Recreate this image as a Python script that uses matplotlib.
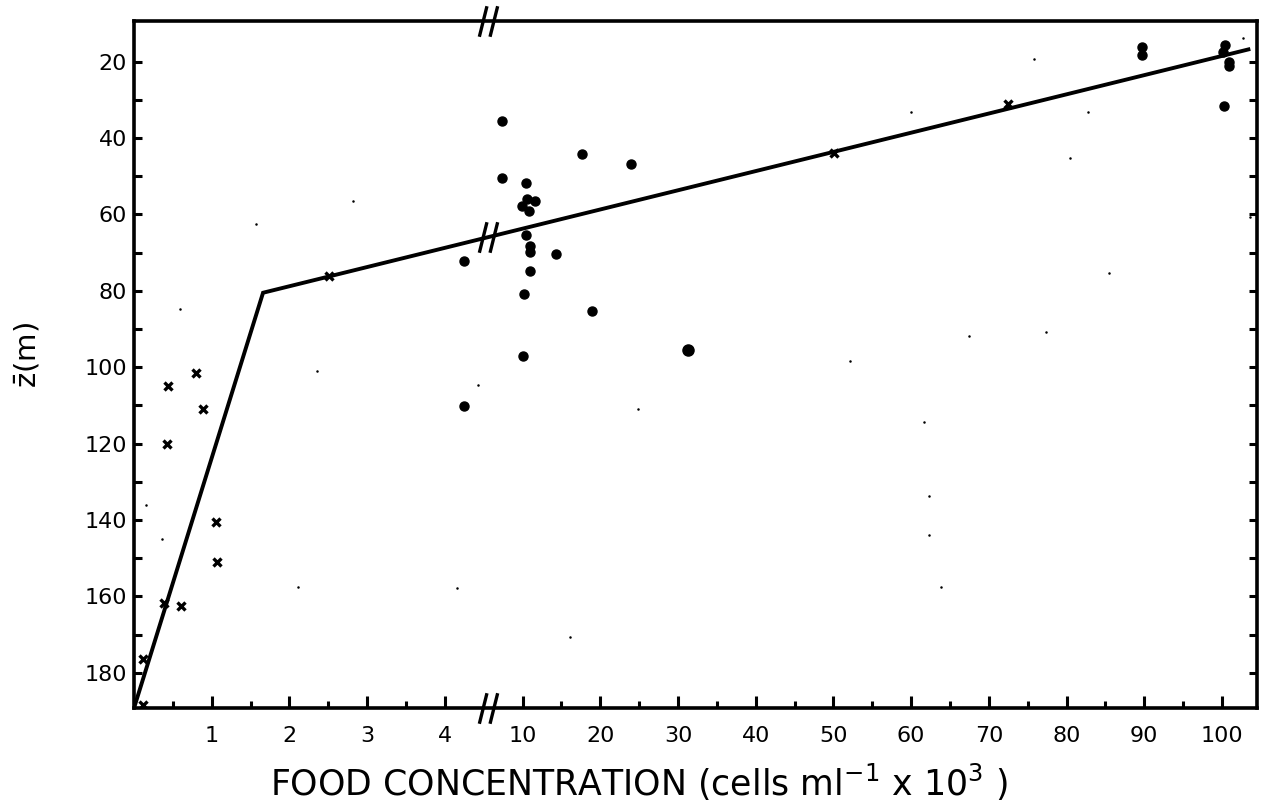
import numpy as np
import matplotlib
matplotlib.use('Agg')
import matplotlib.pyplot as plt
from matplotlib.path import Path
from matplotlib.ticker import FixedLocator, NullFormatter

# donnees (x en cellules ml-1 x 10^3, z en m)
dots_x = [6.8, 6.8, 10.4, 10.6, 9.9, 11.6, 10.8, 10.5, 10.9, 10.9, 11.0, 10.2,
          4.25, 17.6, 24.0, 14.3, 18.9, 10.1, 4.25,
          89.7, 89.7, 100.4, 100.1, 100.9, 100.9, 100.3]
dots_z = [35.5, 50.4, 51.9, 55.9, 57.7, 56.6, 59.0, 65.4, 68.3, 69.8, 74.8, 80.8,
          72.2, 44.1, 46.7, 70.4, 85.3, 97.0, 110.1,
          16.1, 18.2, 15.6, 17.4, 20.0, 21.1, 31.6]

big_x = [31.3]
big_z = [95.6]

cross_x = [0.44, 0.80, 0.89, 0.43, 1.06, 1.07, 0.38, 0.60, 0.11, 0.12, 2.51, 50.1, 72.4]
cross_z = [105.0, 101.4, 111.0, 120.2, 140.6, 150.9, 161.6, 162.4, 176.4, 188.4, 76.1, 44.0, 31.0]

# petites taches visibles
speck_x = [2.82, 1.57, 4.42, 0.59, 0.15, 0.36, 2.35, 2.11, 4.15,
           75.8, 60.0, 82.8, 102.7, 80.4, 67.4, 77.3, 62.3, 63.9, 85.5, 103.6,
           24.9, 52.1, 62.3, 16.1, 61.7]
speck_z = [56.5, 62.6, 104.6, 84.8, 136.0, 145.0, 101.0, 157.4, 157.9,
           19.4, 33.3, 33.2, 13.7, 45.3, 91.8, 90.9, 133.6, 157.6, 75.2, 60.7,
           111.0, 98.3, 144.0, 170.7, 114.3]

# droite ajustee (deux segments)
line_x = [0.0, 1.66, 103.4]
line_z = [189.2, 80.5, 16.8]

left_ticks = [1, 2, 3, 4]
right_ticks = [10, 20, 30, 40, 50, 60, 70, 80, 90, 100]
minor_ticks = [0.5, 1.5, 2.5, 3.5, 15, 25, 35, 45, 55, 65, 75, 85, 95]
z_labels = [20, 40, 60, 80, 100, 120, 140, 160, 180]
z_minor = [30, 50, 70, 90, 110, 130, 150, 170]

# axe coupe : 0-4.55 lineaire, 10-100 compresse (10 unites = 1)
BRK = 4.55
xk = [-10.0, BRK, 10.0, 300.0]
uk = [-10.0, BRK, 5.0, 34.0]


def fwd(x):
    return np.interp(x, xk, uk)


def inv(u):
    return np.interp(u, uk, xk)


fig = plt.figure(figsize=(12.61, 8.06), dpi=100)
ax = fig.add_axes([0.1063, 0.1216, 0.8905, 0.8524])
ax.set_xscale('function', functions=(fwd, inv))

ax.plot(line_x, line_z, color='black', lw=2.8, solid_joinstyle='miter', zorder=2)
ax.plot(dots_x, dots_z, 'o', color='black', ms=6.5, zorder=3)
ax.plot(big_x, big_z, 'o', color='black', ms=8, zorder=3)
ax.plot(cross_x, cross_z, 'x', color='black', ms=6, mew=2.4, zorder=3)
ax.plot(speck_x, speck_z, 'o', color='black', ms=1.8, mew=0, zorder=3)

ax.set_xlim(0, 104.5)
ax.set_ylim(189.2, 9.35)

ax.xaxis.set_major_locator(FixedLocator(left_ticks + right_ticks))
ax.xaxis.set_minor_locator(FixedLocator(minor_ticks))
ax.xaxis.set_minor_formatter(NullFormatter())
ax.set_xticklabels([str(t) for t in left_ticks + right_ticks])
ax.yaxis.set_major_locator(FixedLocator(z_labels))
ax.yaxis.set_minor_locator(FixedLocator(z_minor))

ax.tick_params(axis='x', which='major', direction='in', length=9, width=2.2,
               labelsize=16, pad=13, top=False)
ax.tick_params(axis='x', which='minor', direction='in', length=5, width=2.2, top=False)
ax.tick_params(axis='y', which='both', direction='in', length=6, width=2.2,
               labelsize=16, pad=5, right=True)

for s in ax.spines.values():
    s.set_linewidth(2.6)

# marques de coupure //
brk_path = Path([(-0.6, -1), (-0.1, 1), (0.1, -1), (0.6, 1)],
                [Path.MOVETO, Path.LINETO, Path.MOVETO, Path.LINETO])
u_line = fwd(np.array(line_x))
z_brk = np.interp(BRK, u_line, line_z)
for yy in [9.35, 189.2, z_brk]:
    ax.plot([BRK], [yy], marker=brk_path, ms=22, mew=2.4, color='black',
            fillstyle='none', clip_on=False, zorder=4)

ax.set_xlabel(r'FOOD CONCENTRATION (cells ml$^{-1}$ x 10$^{3}$ )', fontsize=25)
ax.xaxis.set_label_coords(0.45, -0.078)
ax.set_ylabel(r'$\bar{\mathrm{z}}$(m)', fontsize=21)
ax.yaxis.set_label_coords(-0.082, 0.514)

fig.savefig('out.png', dpi=100)
